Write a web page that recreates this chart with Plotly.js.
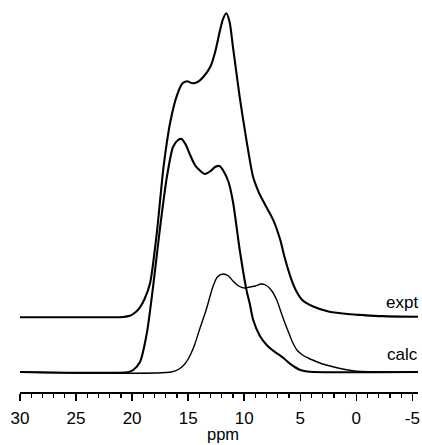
<!DOCTYPE html>
<html>
<head>
<meta charset="utf-8">
<script src="https://cdn.plot.ly/plotly-3.0.1.min.js"></script>
<style>
html,body{margin:0;padding:0;background:#fff;}
#chart{width:422px;height:445px;}
</style>
</head>
<body>
<div id="chart"></div>
<script>
// Chemical shift (ppm) and intensity (arbitrary units)
const exptPpm = [30, 22, 20.8, 20.2, 19.7, 19.3, 18.9, 18.4, 17.8, 17.2, 16.6, 16.0, 15.5, 15.1, 14.6, 14.2, 13.6, 13.0, 12.6, 12.2, 11.9, 11.6, 11.3, 11.0, 10.4, 9.8, 9.2, 8.7, 8.3, 7.4, 6.8, 6.4, 5.8, 5.3, 4.8, 3.9, 2.4, 0.5, -0.5, -2.3, -5.5];
const exptInt = [0, 0, 0.3, 1.5, 5, 10, 18, 34, 84, 150, 195, 222, 234, 236, 234, 235, 241, 251, 265, 285, 298, 304, 295, 270, 220, 177, 140, 125, 116, 97, 78, 60, 38, 25, 17, 11, 5.5, 3, 2.3, 1.2, 0.5];

const calcPpm = [30, 20.3, 19.9, 19.3, 18.7, 18.1, 17.5, 16.9, 16.35, 15.9, 15.6, 15.2, 14.9, 14.4, 14.0, 13.5, 13.0, 12.6, 12.2, 11.8, 11.4, 11.0, 10.4, 9.8, 9.5, 9.2, 8.6, 8.0, 7.5, 7.0, 6.5, 6.0, 5.5, 5.0, 4.4, 3.8, -5.5];
const calcInt = [0, 0, 2, 10, 38, 88, 145, 195, 225, 232, 233, 227, 219, 207, 202, 198, 201, 205, 206, 200, 190, 170, 122, 82, 68, 52, 36, 27, 22, 18, 14, 9, 5, 2, 0.5, 0, 0];

const compPpm = [30, 16.5, 15.8, 15.3, 14.9, 14.4, 14.0, 13.4, 12.8, 12.4, 11.9, 11.4, 11.0, 10.5, 10.0, 9.5, 9.0, 8.5, 8.1, 7.6, 7.1, 6.6, 6.2, 5.7, 5.3, 4.8, 4.3, 3.9, 3.0, 2.0, 1.0, 0.0, -1.0, -5.5];
const compInt = [0, 0, 3, 8, 15, 28, 42, 62, 85, 95, 98, 96, 91, 86, 84, 85, 86, 88, 87, 82, 72, 56, 44, 30, 22, 17, 14, 12, 8, 5, 2.5, 0.8, 0.2, 0];

const traceLabels = ["expt", "calc"];
const xTickVals = [30, 25, 20, 15, 10, 5, 0, -5];
const xTitle = "ppm";

// vertical stacking offsets of the two spectra
const calcOffset = 20;
const exptOffset = 74.7;

const font = "Liberation Sans, Arial, Helvetica, sans-serif";

const traces = [
  {x: exptPpm, y: exptInt.map(v => v + exptOffset), mode: "lines",
   line: {color: "#000", width: 2.1, shape: "spline", smoothing: 0.7}, hoverinfo: "skip"},
  {x: calcPpm, y: calcInt.map(v => v + calcOffset), mode: "lines",
   line: {color: "#000", width: 2.1, shape: "spline", smoothing: 0.7}, hoverinfo: "skip"},
  {x: compPpm, y: compInt.map(v => v + calcOffset), mode: "lines",
   line: {color: "#000", width: 1.4, shape: "spline", smoothing: 0.7}, hoverinfo: "skip"}
];

const layout = {
  width: 422, height: 445,
  margin: {l: 20, r: 4, t: 0, b: 53},
  paper_bgcolor: "#fff", plot_bgcolor: "#fff",
  showlegend: false,
  font: {family: font, color: "#000", size: 17},
  xaxis: {
    range: [30, -5.5], tickmode: "array", tickvals: xTickVals,
    ticktext: xTickVals.map(String),
    showline: true, linecolor: "#000", linewidth: 1.5,
    ticks: "outside", ticklen: 7, tickwidth: 1.5, tickcolor: "#000",
    minor: {dtick: 1, tick0: 0, ticks: "outside", ticklen: 4, tickwidth: 1.2, tickcolor: "#000", showgrid: false},
    showgrid: false, zeroline: false,
    tickfont: {family: font, size: 17, color: "#000"},
    ticklabelstandoff: 3
  },
  yaxis: {range: [0, 392], visible: false, showgrid: false, zeroline: false, fixedrange: true},
  annotations: [
    {text: traceLabels[0], xref: "paper", yref: "y", x: 1.005, y: exptOffset + 15, xanchor: "right", yanchor: "middle",
     showarrow: false, font: {family: font, size: 17, color: "#000"}},
    {text: traceLabels[1], xref: "paper", yref: "y", x: 1.005, y: calcOffset + 17.5, xanchor: "right", yanchor: "middle",
     showarrow: false, font: {family: font, size: 17, color: "#000"}},
    {text: xTitle, xref: "paper", yref: "paper", x: 0.51, y: -0.108, xanchor: "center", yanchor: "middle",
     showarrow: false, font: {family: font, size: 16.5, color: "#000"}}
  ]
};

Plotly.newPlot("chart", traces, layout, {staticPlot: true, displayModeBar: false});
</script>
</body>
</html>
